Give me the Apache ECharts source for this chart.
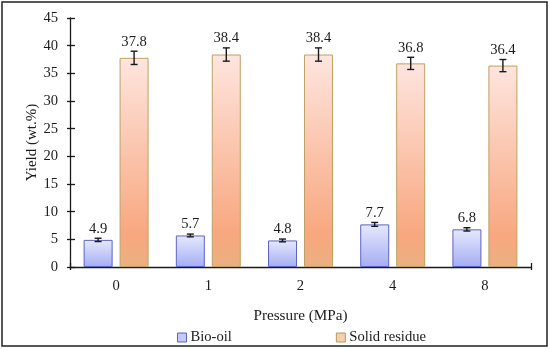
<!DOCTYPE html>
<html>
<head>
<meta charset="utf-8">
<script src="https://cdn.jsdelivr.net/npm/echarts@6/dist/echarts.min.js"></script>
<style>html,body{margin:0;padding:0;background:#fff}#c{width:550px;height:350px}</style>
</head>
<body>
<div id="c"></div>
<script>
const categories = ['0', '1', '2', '4', '8'];
const bioOil = [4.9, 5.7, 4.8, 7.7, 6.8];
const bioOilErr = [0.3, 0.25, 0.25, 0.35, 0.3];
const solidResidue = [37.8, 38.4, 38.4, 36.8, 36.4];
const solidResidueErr = [1.2, 1.2, 1.2, 1.1, 1.1];
const yTicks = [0, 5, 10, 15, 20, 25, 30, 35, 40, 45];

const FONT = 'Liberation Serif';
const FS = 14.6;
const chart = echarts.init(document.getElementById('c'), null, {renderer: 'canvas'});

function errSeries(name, vals, errs, sign) {
  return {
    type: 'custom',
    name: name + '-err',
    xAxisIndex: 0, yAxisIndex: 0,
    silent: true,
    z: 10,
    data: vals.map((v, i) => [i, v, errs[i]]),
    renderItem: function (params, api) {
      const i = api.value(0), v = api.value(1), e = api.value(2);
      const band = api.size([1, 0])[0];
      const off = sign * band * 18 / 92.2;
      const top = api.coord([i, v + e]);
      const bot = api.coord([i, v - e]);
      const x = top[0] + off;
      const cap = 3.5;
      const st = {stroke: '#1a1a1a', lineWidth: 1.4};
      return {
        type: 'group',
        children: [
          {type: 'line', shape: {x1: x, y1: top[1], x2: x, y2: bot[1]}, style: st},
          {type: 'line', shape: {x1: x - cap, y1: top[1], x2: x + cap, y2: top[1]}, style: st},
          {type: 'line', shape: {x1: x - cap, y1: bot[1], x2: x + cap, y2: bot[1]}, style: st},
          {type: 'text', style: {text: v.toFixed(1), x: x, y: top[1] - 2, textAlign: 'center', textVerticalAlign: 'bottom', font: FS + 'px "' + FONT + '"', fill: '#1a1a1a'}}
        ]
      };
    }
  };
}

const bioGrad = new echarts.graphic.LinearGradient(0, 0, 0, 1, [{offset: 0, color: '#e6e9fd'}, {offset: 1, color: '#a4adf3'}]);
const solGrad = new echarts.graphic.LinearGradient(0, 0, 0, 1, [{offset: 0, color: '#fee5df'}, {offset: 0.85, color: '#f8a77f'}, {offset: 1, color: '#ebb080'}]);

const hiddenCommon = {axisLabel: {show: false}, splitLine: {show: false}};

chart.setOption({
  animation: false,
  backgroundColor: '#fff',
  textStyle: {fontFamily: FONT},
  graphic: [{type: 'rect', shape: {x: 2, y: 2, width: 545, height: 344}, style: {fill: 'none', stroke: '#222', lineWidth: 1.5}, silent: true}],
  grid: {left: 70, right: 19, top: 18, bottom: 83},
  legend: {
    left: 172, top: 325,
    itemWidth: 9, itemHeight: 9, itemGap: 104,
    textStyle: {fontFamily: FONT, fontSize: FS, color: '#1a1a1a', padding: [0, 0, 0, -1]},
    data: [
      {name: 'Bio-oil', icon: 'rect', itemStyle: {color: '#c3c9f8', borderColor: '#5b63c4', borderWidth: 1}},
      {name: 'Solid residue', icon: 'rect', itemStyle: {color: '#f6cfae', borderColor: '#b8985a', borderWidth: 1}}
    ]
  },
  xAxis: [
    {type: 'category', data: categories, position: 'bottom',
     name: 'Pressure (MPa)', nameLocation: 'middle', nameGap: 42, nameMoveOverlap: false,
     nameTextStyle: {fontFamily: FONT, fontSize: 15.2, color: '#1a1a1a'},
     axisLine: {lineStyle: {color: '#1a1a1a', width: 1.3}},
     axisTick: {alignWithLabel: true, length: 3, lineStyle: {color: '#1a1a1a', width: 1.3}},
     axisLabel: {fontFamily: FONT, fontSize: FS, color: '#1a1a1a', margin: 12}},
    Object.assign({type: 'category', data: categories, position: 'bottom', axisLine: {show: false},
     axisTick: {inside: true, alignWithLabel: true, length: 4, lineStyle: {color: '#1a1a1a', width: 1.3}}}, hiddenCommon),
    Object.assign({type: 'value', min: 0, max: 5, interval: 5, position: 'bottom', axisLine: {show: false},
     axisTick: {length: 3, lineStyle: {color: '#1a1a1a', width: 1.3}}}, hiddenCommon),
    Object.assign({type: 'value', min: 0, max: 5, interval: 5, position: 'bottom', axisLine: {show: false},
     axisTick: {inside: true, length: 4, lineStyle: {color: '#1a1a1a', width: 1.3}}}, hiddenCommon)
  ],
  yAxis: [
    {type: 'value', min: yTicks[0], max: yTicks[yTicks.length - 1], interval: yTicks[1] - yTicks[0],
     name: 'Yield (wt.%)', nameLocation: 'middle', nameGap: 30, nameMoveOverlap: false,
     nameTextStyle: {fontFamily: FONT, fontSize: 15, color: '#1a1a1a'},
     axisLine: {show: true, lineStyle: {color: '#1a1a1a', width: 1.3}},
     axisTick: {show: true, length: 3, lineStyle: {color: '#1a1a1a', width: 1.3}},
     axisLabel: {fontFamily: FONT, fontSize: FS, color: '#1a1a1a', margin: 12},
     splitLine: {show: false}},
    Object.assign({type: 'value', min: yTicks[0], max: yTicks[yTicks.length - 1], interval: yTicks[1] - yTicks[0], position: 'left',
     axisLine: {show: false}, axisTick: {show: true, inside: true, length: 5, lineStyle: {color: '#1a1a1a', width: 1.3}}}, hiddenCommon)
  ],
  series: [
    {type: 'bar', name: 'Bio-oil', data: bioOil, barWidth: 29, barGap: '24%',
     itemStyle: {color: bioGrad, borderColor: '#5b63c4', borderWidth: 1}},
    {type: 'bar', name: 'Solid residue', data: solidResidue, barWidth: 29, barGap: '24%',
     itemStyle: {color: solGrad, borderColor: '#bfa062', borderWidth: 1}},
    errSeries('Bio-oil', bioOil, bioOilErr, -1),
    errSeries('Solid residue', solidResidue, solidResidueErr, 1)
  ]
});
</script>
</body>
</html>
